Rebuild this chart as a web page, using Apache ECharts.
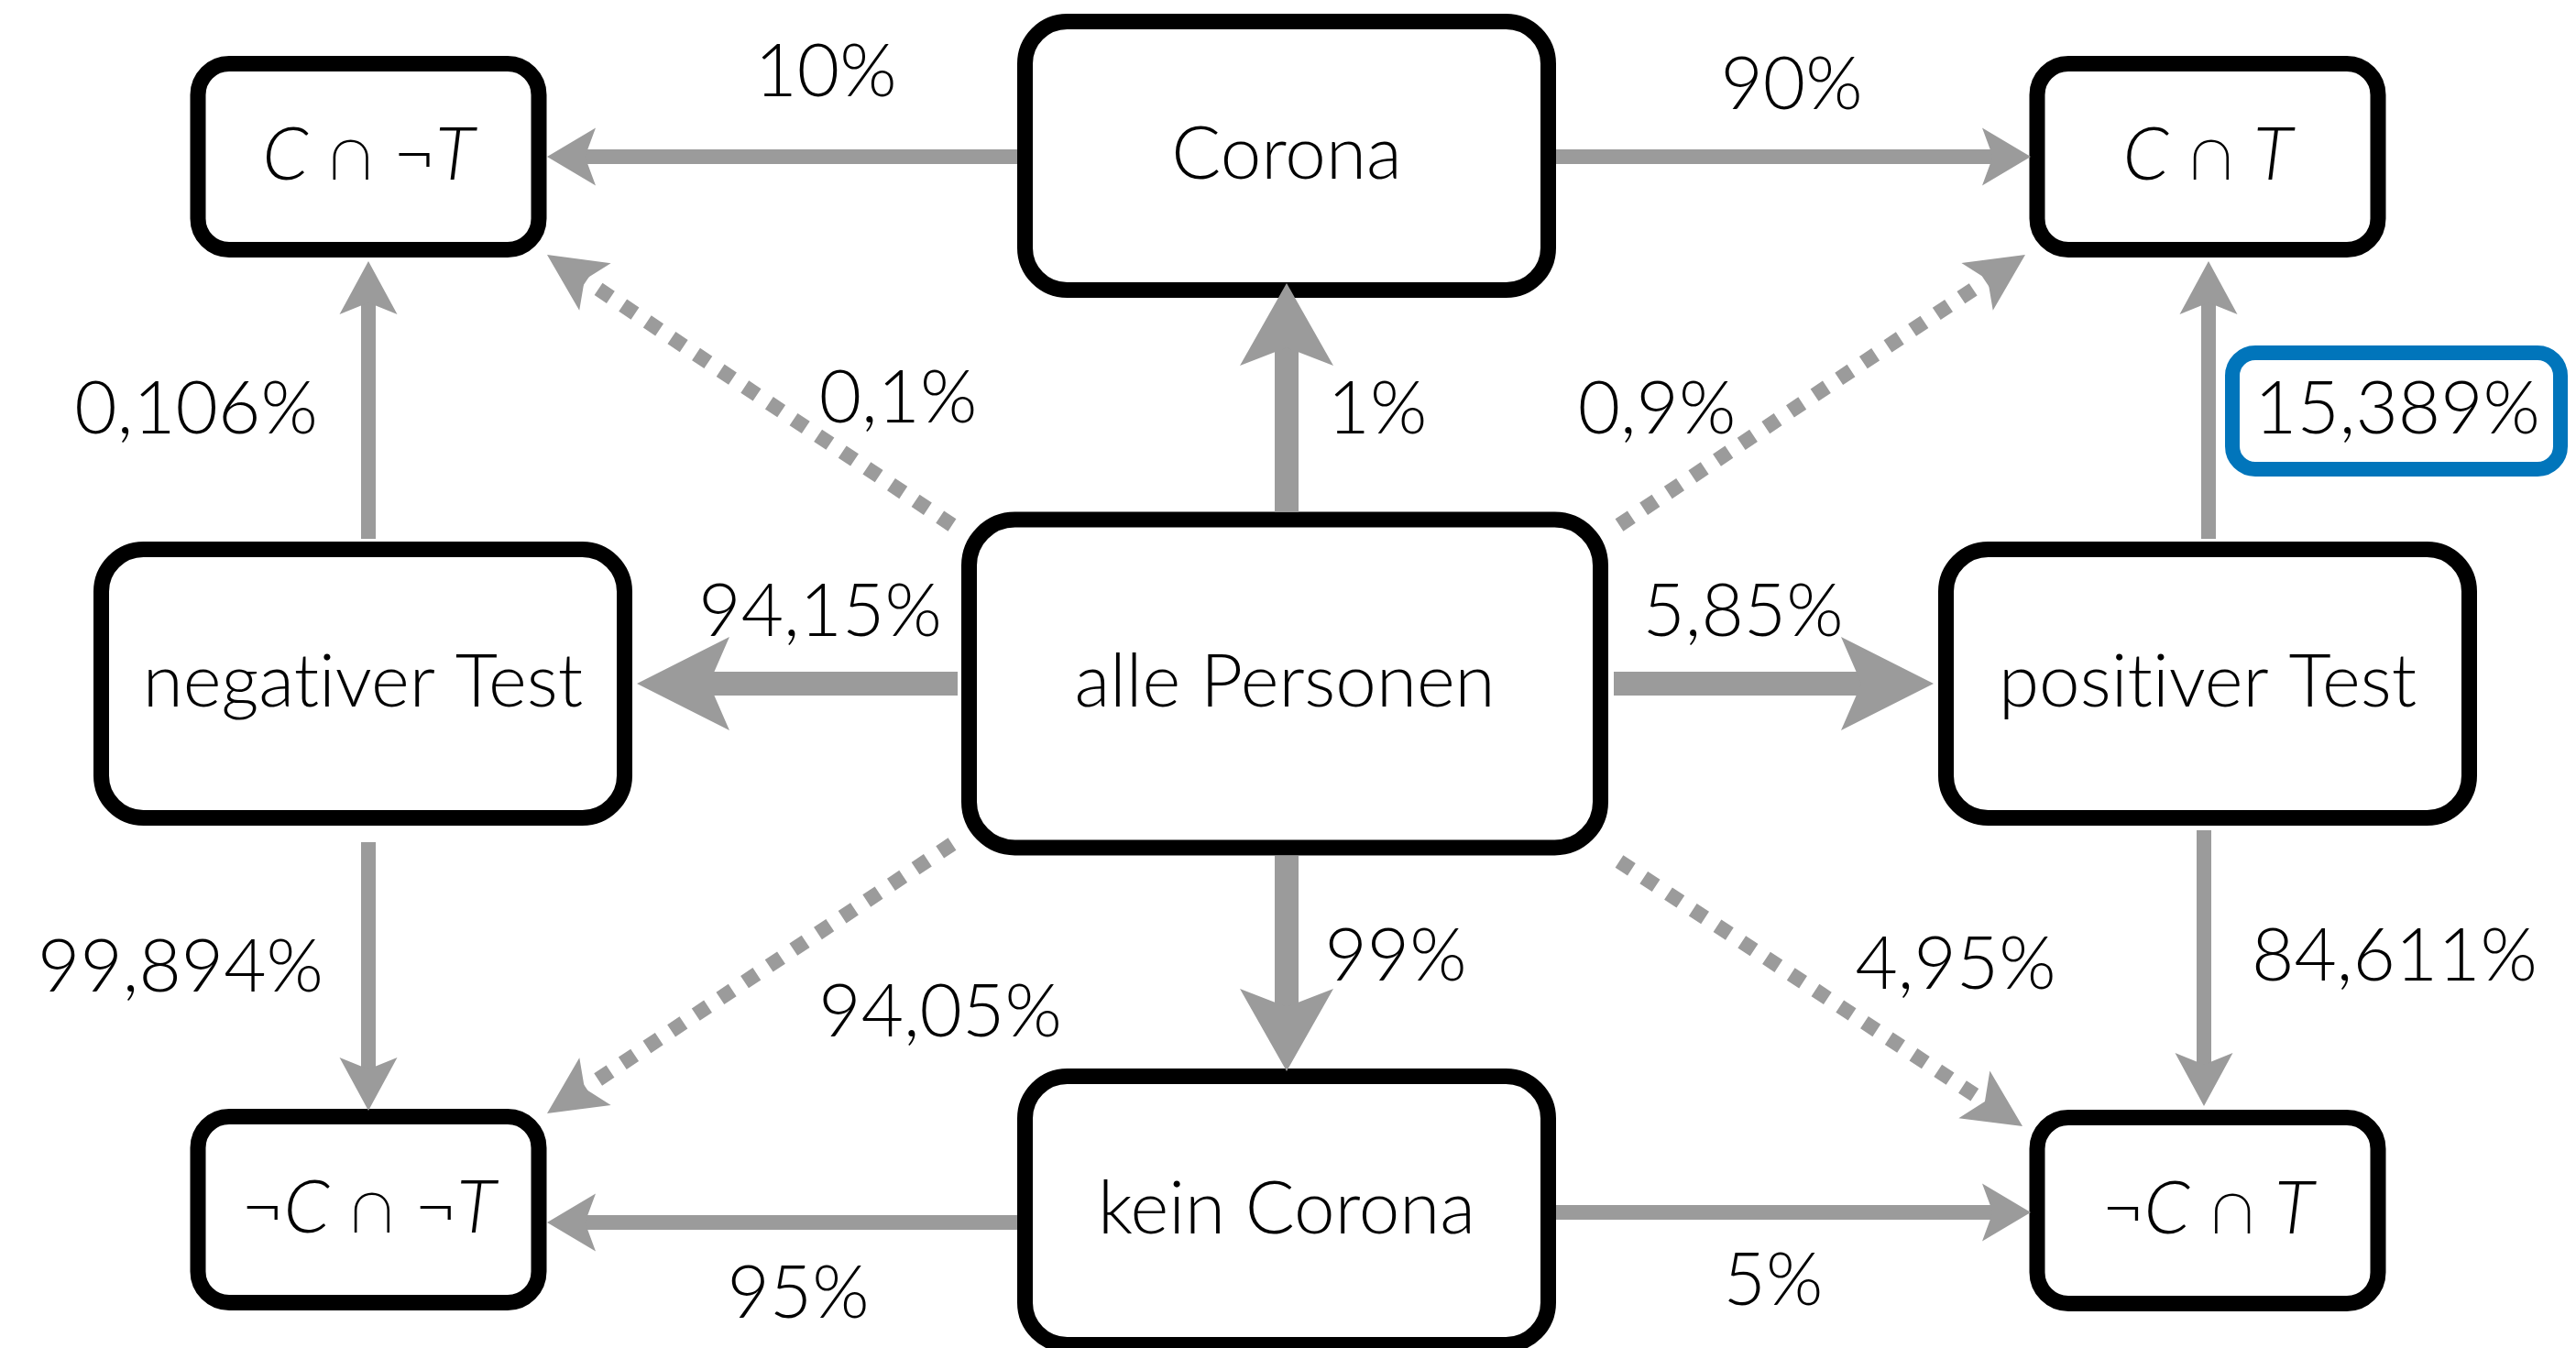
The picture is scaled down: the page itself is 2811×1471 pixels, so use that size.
<!DOCTYPE html>
<html>
<head>
<meta charset="utf-8">
<title>Corona-Test Baumdiagramm</title>
<script src="https://cdn.jsdelivr.net/npm/echarts@6/dist/echarts.min.js"></script>
<style>
  html, body { margin: 0; padding: 0; background: #fff; }
  #main { width: 2811px; height: 1471px; }
</style>
</head>
<body>
<div id="main"></div>
<script>
// Knoten (Lage in Diagrammkoordinaten)
const nodeLabels = ['C ∩ ¬T', 'Corona', 'C ∩ T', 'negativer Test', 'alle Personen', 'positiver Test', '¬C ∩ ¬T', 'kein Corona', '¬C ∩ T'];
const nodeX = [402, 1404, 2409, 396, 1402, 2409, 402, 1404, 2409];
const nodeY = [171, 170, 171, 746, 746, 746, 1320, 1321, 1321];
const nodeKind = ['set', 'event', 'set', 'event', 'root', 'event', 'set', 'event', 'set'];

// Pfeile: Start, Spitze, Art
const edgeStart = [[1110, 171], [1698, 171], [1404, 559], [1039, 573], [1767, 573], [1045, 746], [1761, 746], [402, 588],
                   [2410, 588], [1404, 934], [1039, 921], [1767, 940], [402, 919], [2405, 906], [1110, 1334], [1698, 1323]];
const edgeEnd = [[597, 171], [2216, 171], [1404, 309], [597, 278], [2210, 278], [695, 746], [2110, 746], [402, 285],
                 [2410, 285], [1404, 1169], [597, 1215], [2207, 1229], [402, 1212], [2405, 1207], [597, 1334], [2216, 1323]];
const edgeKind = ['branch', 'branch', 'main', 'joint', 'joint', 'main', 'main', 'branch',
                  'branch', 'main', 'joint', 'joint', 'branch', 'branch', 'branch', 'branch'];

// Prozentangaben (Mitte, Grundlinie)
const pctText = ['10%', '90%', '0,106%', '0,1%', '1%', '0,9%', '15,389%', '94,15%', '5,85%', '99,894%', '94,05%', '99%', '4,95%', '84,611%', '95%', '5%'];
const pctX = [901, 1955, 214, 980, 1503, 1808, 2616, 895, 1902, 197, 1026, 1523, 2134, 2613, 871, 1935];
const pctY = [105, 119, 473, 461, 473, 473, 473, 694, 694, 1082, 1131, 1070, 1079, 1070, 1438, 1424];
const highlighted = '15,389%';

const GREY = '#9b9b9b';
const BLUE = '#0175bb';
const FONT = 'Lato, "Noto Sans", "DejaVu Sans", sans-serif';
const FS = 80;
const boxes = { set: [372, 203, 34], event: [571, 293, 46], root: [689, 358, 50] };
const arrows = {
  branch: { width: 16, len: 53, lenV: 58, half: 31.5 },
  main:   { width: 26, len: 101, lenV: 90, half: 51 },
  joint:  { width: 16, len: 63, lenV: 63, half: 31, dash: [16, 16] }
};

const chart = echarts.init(document.getElementById('main'));

function textStyle(text) {
  // ZWNJ zwischen t und i, damit Lato keine ti-Ligatur setzt
  const s = { text: text.replace(/ti/g, 't\u200Ci'), fill: '#000', fontSize: FS, fontFamily: FONT, fontWeight: 300, align: 'center', verticalAlign: 'middle' };
  if (text.indexOf('∩') >= 0) {
    s.text = text.replace(/([CT])/g, '{i|$1}');
    s.rich = { i: { fontStyle: 'italic', fontWeight: 300, fontSize: FS, fontFamily: FONT, fill: '#000' } };
  }
  return s;
}

function renderEdge(params, api) {
  const a = api.coord([api.value(0), api.value(1)]);
  const b = api.coord([api.value(2), api.value(3)]);
  const st = arrows[edgeKind[params.dataIndex]];
  const dx = b[0] - a[0], dy = b[1] - a[1];
  const d = Math.sqrt(dx * dx + dy * dy);
  const ux = dx / d, uy = dy / d;
  const L = Math.abs(dy) > Math.abs(dx) * 3 ? st.lenV : st.len;
  const px = -uy, py = ux;
  const bx = b[0] - ux * L, by = b[1] - uy * L;
  const nx = b[0] - ux * L * 0.78, ny = b[1] - uy * L * 0.78;
  const ex = b[0] - ux * L * 0.7, ey = b[1] - uy * L * 0.7;
  return {
    type: 'group',
    children: [
      {
        type: 'line',
        shape: { x1: a[0], y1: a[1], x2: ex, y2: ey },
        style: { stroke: GREY, lineWidth: st.width, lineDash: st.dash || null, lineCap: 'butt' }
      },
      {
        type: 'polygon',
        shape: { points: [[b[0], b[1]], [bx + px * st.half, by + py * st.half], [nx, ny], [bx - px * st.half, by - py * st.half]] },
        style: { fill: GREY }
      }
    ]
  };
}

function renderNode(params, api) {
  const c = api.coord([api.value(0), api.value(1)]);
  const b = boxes[nodeKind[params.dataIndex]];
  return {
    type: 'group',
    children: [
      {
        type: 'rect',
        shape: { x: c[0] - b[0] / 2, y: c[1] - b[1] / 2, width: b[0], height: b[1], r: b[2] },
        style: { fill: '#fff', stroke: '#000', lineWidth: 17 }
      },
      { type: 'text', x: c[0], y: c[1] - 1, style: textStyle(nodeLabels[params.dataIndex]) }
    ]
  };
}

function renderPct(params, api) {
  const c = api.coord([api.value(0), api.value(1)]);
  const t = pctText[params.dataIndex];
  const children = [];
  if (t === highlighted) {
    children.push({
      type: 'rect',
      shape: { x: c[0] - 1 - 179, y: c[1] - 25 - 63, width: 358, height: 127, r: 25 },
      style: { fill: '#fff', stroke: BLUE, lineWidth: 16 }
    });
  }
  children.push({ type: 'text', x: c[0], y: c[1] - 26, style: textStyle(t) });
  return { type: 'group', children: children };
}

chart.setOption({
  animation: false,
  grid: { left: 0, right: 0, top: 0, bottom: 0 },
  xAxis: { type: 'value', min: 0, max: 2811, show: false },
  yAxis: { type: 'value', min: 0, max: 1471, inverse: true, show: false },
  series: [
    {
      type: 'custom', z: 1, renderItem: renderNode,
      data: nodeX.map((x, i) => [x, nodeY[i]])
    },
    {
      type: 'custom', z: 2, renderItem: renderEdge,
      data: edgeStart.map((s, i) => [s[0], s[1], edgeEnd[i][0], edgeEnd[i][1]])
    },
    {
      type: 'custom', z: 3, renderItem: renderPct,
      data: pctX.map((x, i) => [x, pctY[i]])
    }
  ]
});
</script>
</body>
</html>
